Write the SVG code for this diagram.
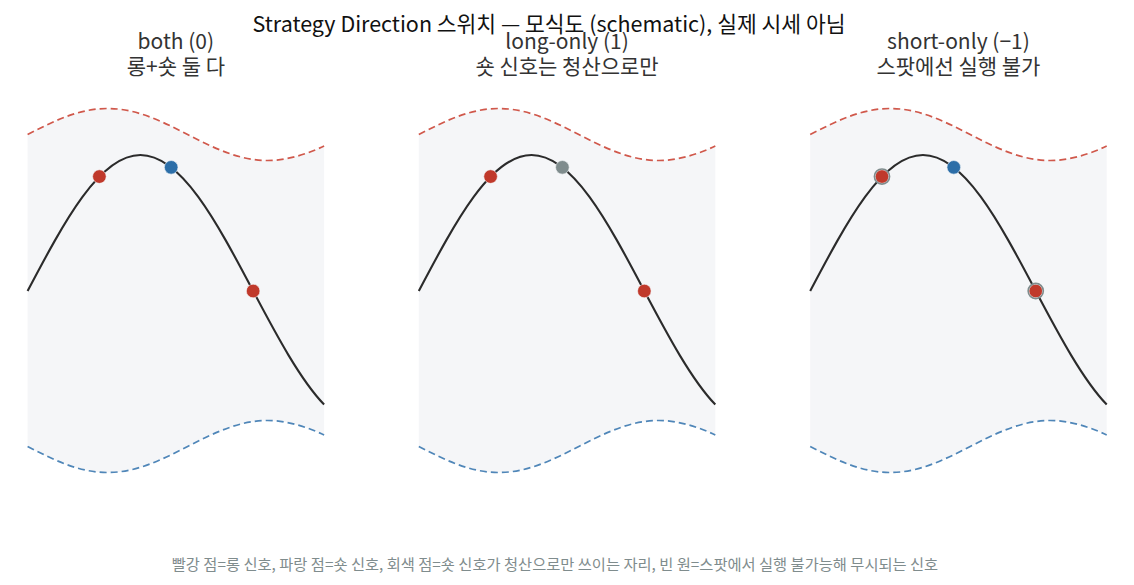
<svg xmlns="http://www.w3.org/2000/svg" xmlns:xlink="http://www.w3.org/1999/xlink" width="1134" height="585" viewBox="0 0 1134 585">
<style>
.bg{fill:#f5f6f8;stroke:none}
.up{fill:none;stroke:#d0584b;stroke-width:1.7;stroke-dasharray:7 4}
.lo{fill:none;stroke:#4f86b8;stroke-width:1.7;stroke-dasharray:7 4}
.px{fill:none;stroke:#2b2b2b;stroke-width:2.1;stroke-linejoin:round}
.dr{fill:#c0392b;stroke:#f5f6f8;stroke-width:0.6}
.db{fill:#2c6ea8;stroke:#f5f6f8;stroke-width:0.6}
.dg{fill:#7f8c8d;stroke:#f5f6f8;stroke-width:0.6}
.ring{fill:none;stroke:#7f8c8d;stroke-width:1.6}
text{font-family:"Noto Sans CJK KR","Noto Sans",sans-serif;text-anchor:middle}
.title{font-size:21.5px;fill:#111}
.sub{font-size:21px;fill:#333}
.foot{font-size:15.3px;fill:#7f8c8d}
</style>
<defs>
<path id="band" d="M0,134.5 C26.09,121.18 51.05,108.5 80,108.5 C108.95,108.5 133.91,121.18 160,134.5 C186.09,147.82 211.05,160.5 240,160.5 C258.83,160.5 277.67,154.69 296.5,146.08 L296.5,434.92 C277.67,426.31 258.83,420.5 240,420.5 C211.05,420.5 186.09,433.18 160,446.5 C133.91,459.82 108.95,472.5 80,472.5 C51.05,472.5 26.09,459.82 0,446.5 Z"/>
<path id="upper" d="M0,134.5 C26.09,121.18 51.05,108.5 80,108.5 C108.95,108.5 133.91,121.18 160,134.5 C186.09,147.82 211.05,160.5 240,160.5 C258.83,160.5 277.67,154.69 296.5,146.08"/>
<path id="lower" d="M0,446.5 C26.09,459.82 51.05,472.5 80,472.5 C108.95,472.5 133.91,459.82 160,446.5 C186.09,433.18 211.05,420.5 240,420.5 C258.83,420.5 277.67,426.31 296.5,434.92"/>
<path id="price" d="M0,291 C36.78,221.33 71.96,155 112.77,155 C153.58,155 188.76,221.33 225.54,291 C249.19,335.81 272.85,379.91 296.5,404.56"/>
</defs>

<text class="title" x="549" y="31.5">Strategy Direction 스위치 — 모식도 (schematic), 실제 시세 아님</text>

<g id="panel-both" transform="translate(27.6,0)">
<use xlink:href="#band" class="bg"/>
<use xlink:href="#upper" class="up"/>
<use xlink:href="#lower" class="lo"/>
<use xlink:href="#price" class="px"/>
<circle class="dr" cx="71.79" cy="176.56" r="6.8"/>
<circle class="db" cx="143.58" cy="167.34" r="6.8"/>
<circle class="dr" cx="225.54" cy="291" r="6.8"/>
<text class="sub" x="148.25" y="49">both (0)</text>
<text class="sub" x="148.25" y="73.5">롱+숏 둘 다</text>
</g>

<g id="panel-long-only" transform="translate(418.8,0)">
<use xlink:href="#band" class="bg"/>
<use xlink:href="#upper" class="up"/>
<use xlink:href="#lower" class="lo"/>
<use xlink:href="#price" class="px"/>
<circle class="dr" cx="71.79" cy="176.56" r="6.8"/>
<circle class="dg" cx="143.58" cy="167.34" r="6.8"/>
<circle class="dr" cx="225.54" cy="291" r="6.8"/>
<text class="sub" x="148.25" y="49">long-only (1)</text>
<text class="sub" x="148.25" y="73.5">숏 신호는 청산으로만</text>
</g>

<g id="panel-short-only" transform="translate(810.2,0)">
<use xlink:href="#band" class="bg"/>
<use xlink:href="#upper" class="up"/>
<use xlink:href="#lower" class="lo"/>
<use xlink:href="#price" class="px"/>
<circle class="dr" cx="71.79" cy="176.56" r="6.8"/>
<circle class="ring" cx="71.79" cy="176.56" r="7.6"/>
<circle class="db" cx="143.58" cy="167.34" r="6.8"/>
<circle class="dr" cx="225.54" cy="291" r="6.8"/>
<circle class="ring" cx="225.54" cy="291" r="7.6"/>
<text class="sub" x="148.25" y="49">short-only (−1)</text>
<text class="sub" x="148.25" y="73.5">스팟에선 실행 불가</text>
</g>

<text class="foot" x="555" y="569.5">빨강 점=롱 신호, 파랑 점=숏 신호, 회색 점=숏 신호가 청산으로만 쓰이는 자리, 빈 원=스팟에서 실행 불가능해 무시되는 신호</text>
</svg>
